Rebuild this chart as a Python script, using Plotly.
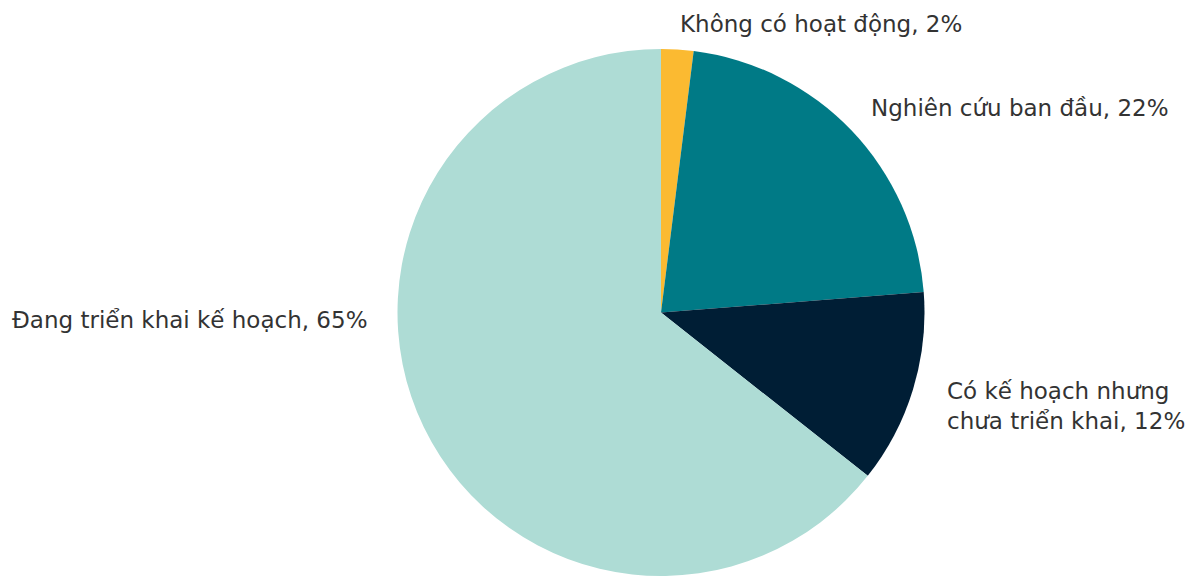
import plotly.graph_objects as go

# Survey shares by stage (percent)
categories = [
    "Không có hoạt động",
    "Nghiên cứu ban đầu",
    "Có kế hoạch nhưng chưa triển khai",
    "Đang triển khai kế hoạch",
]
values = [2, 22, 12, 65]
colors = ["#FBBA31", "#007A86", "#001E35", "#AEDCD5"]

W, H = 1189, 576

fig = go.Figure(
    go.Pie(
        labels=categories,
        values=values,
        sort=False,
        direction="clockwise",
        rotation=0,
        textinfo="none",
        hoverinfo="label+value",
        marker=dict(colors=colors, line=dict(width=0)),
        domain=dict(x=[(661 - 263.5) / W, (661 + 263.5) / W], y=[0, 1 - 49 / H]),
        showlegend=False,
    )
)

# Label placement (pixel anchors: left x, vertical centre y)
label_pos = [(678, 24), (869, 108), (945, 406), (10, 320)]
wrap = {"Có kế hoạch nhưng chưa triển khai": "Có kế hoạch nhưng<br>chưa triển khai"}

for cat, val, (px, py) in zip(categories, values, label_pos):
    text = f"{wrap.get(cat, cat)}, {val}%"
    fig.add_annotation(
        x=px / W,
        y=1 - py / H,
        xref="paper",
        yref="paper",
        xanchor="left",
        yanchor="middle",
        align="left",
        text=text,
        showarrow=False,
        font=dict(family="DejaVu Sans, sans-serif", size=23, color="#333333"),
    )

fig.update_layout(
    width=W,
    height=H,
    margin=dict(l=0, r=0, t=0, b=0),
    paper_bgcolor="white",
    plot_bgcolor="white",
)

fig.write_html("out.html")
